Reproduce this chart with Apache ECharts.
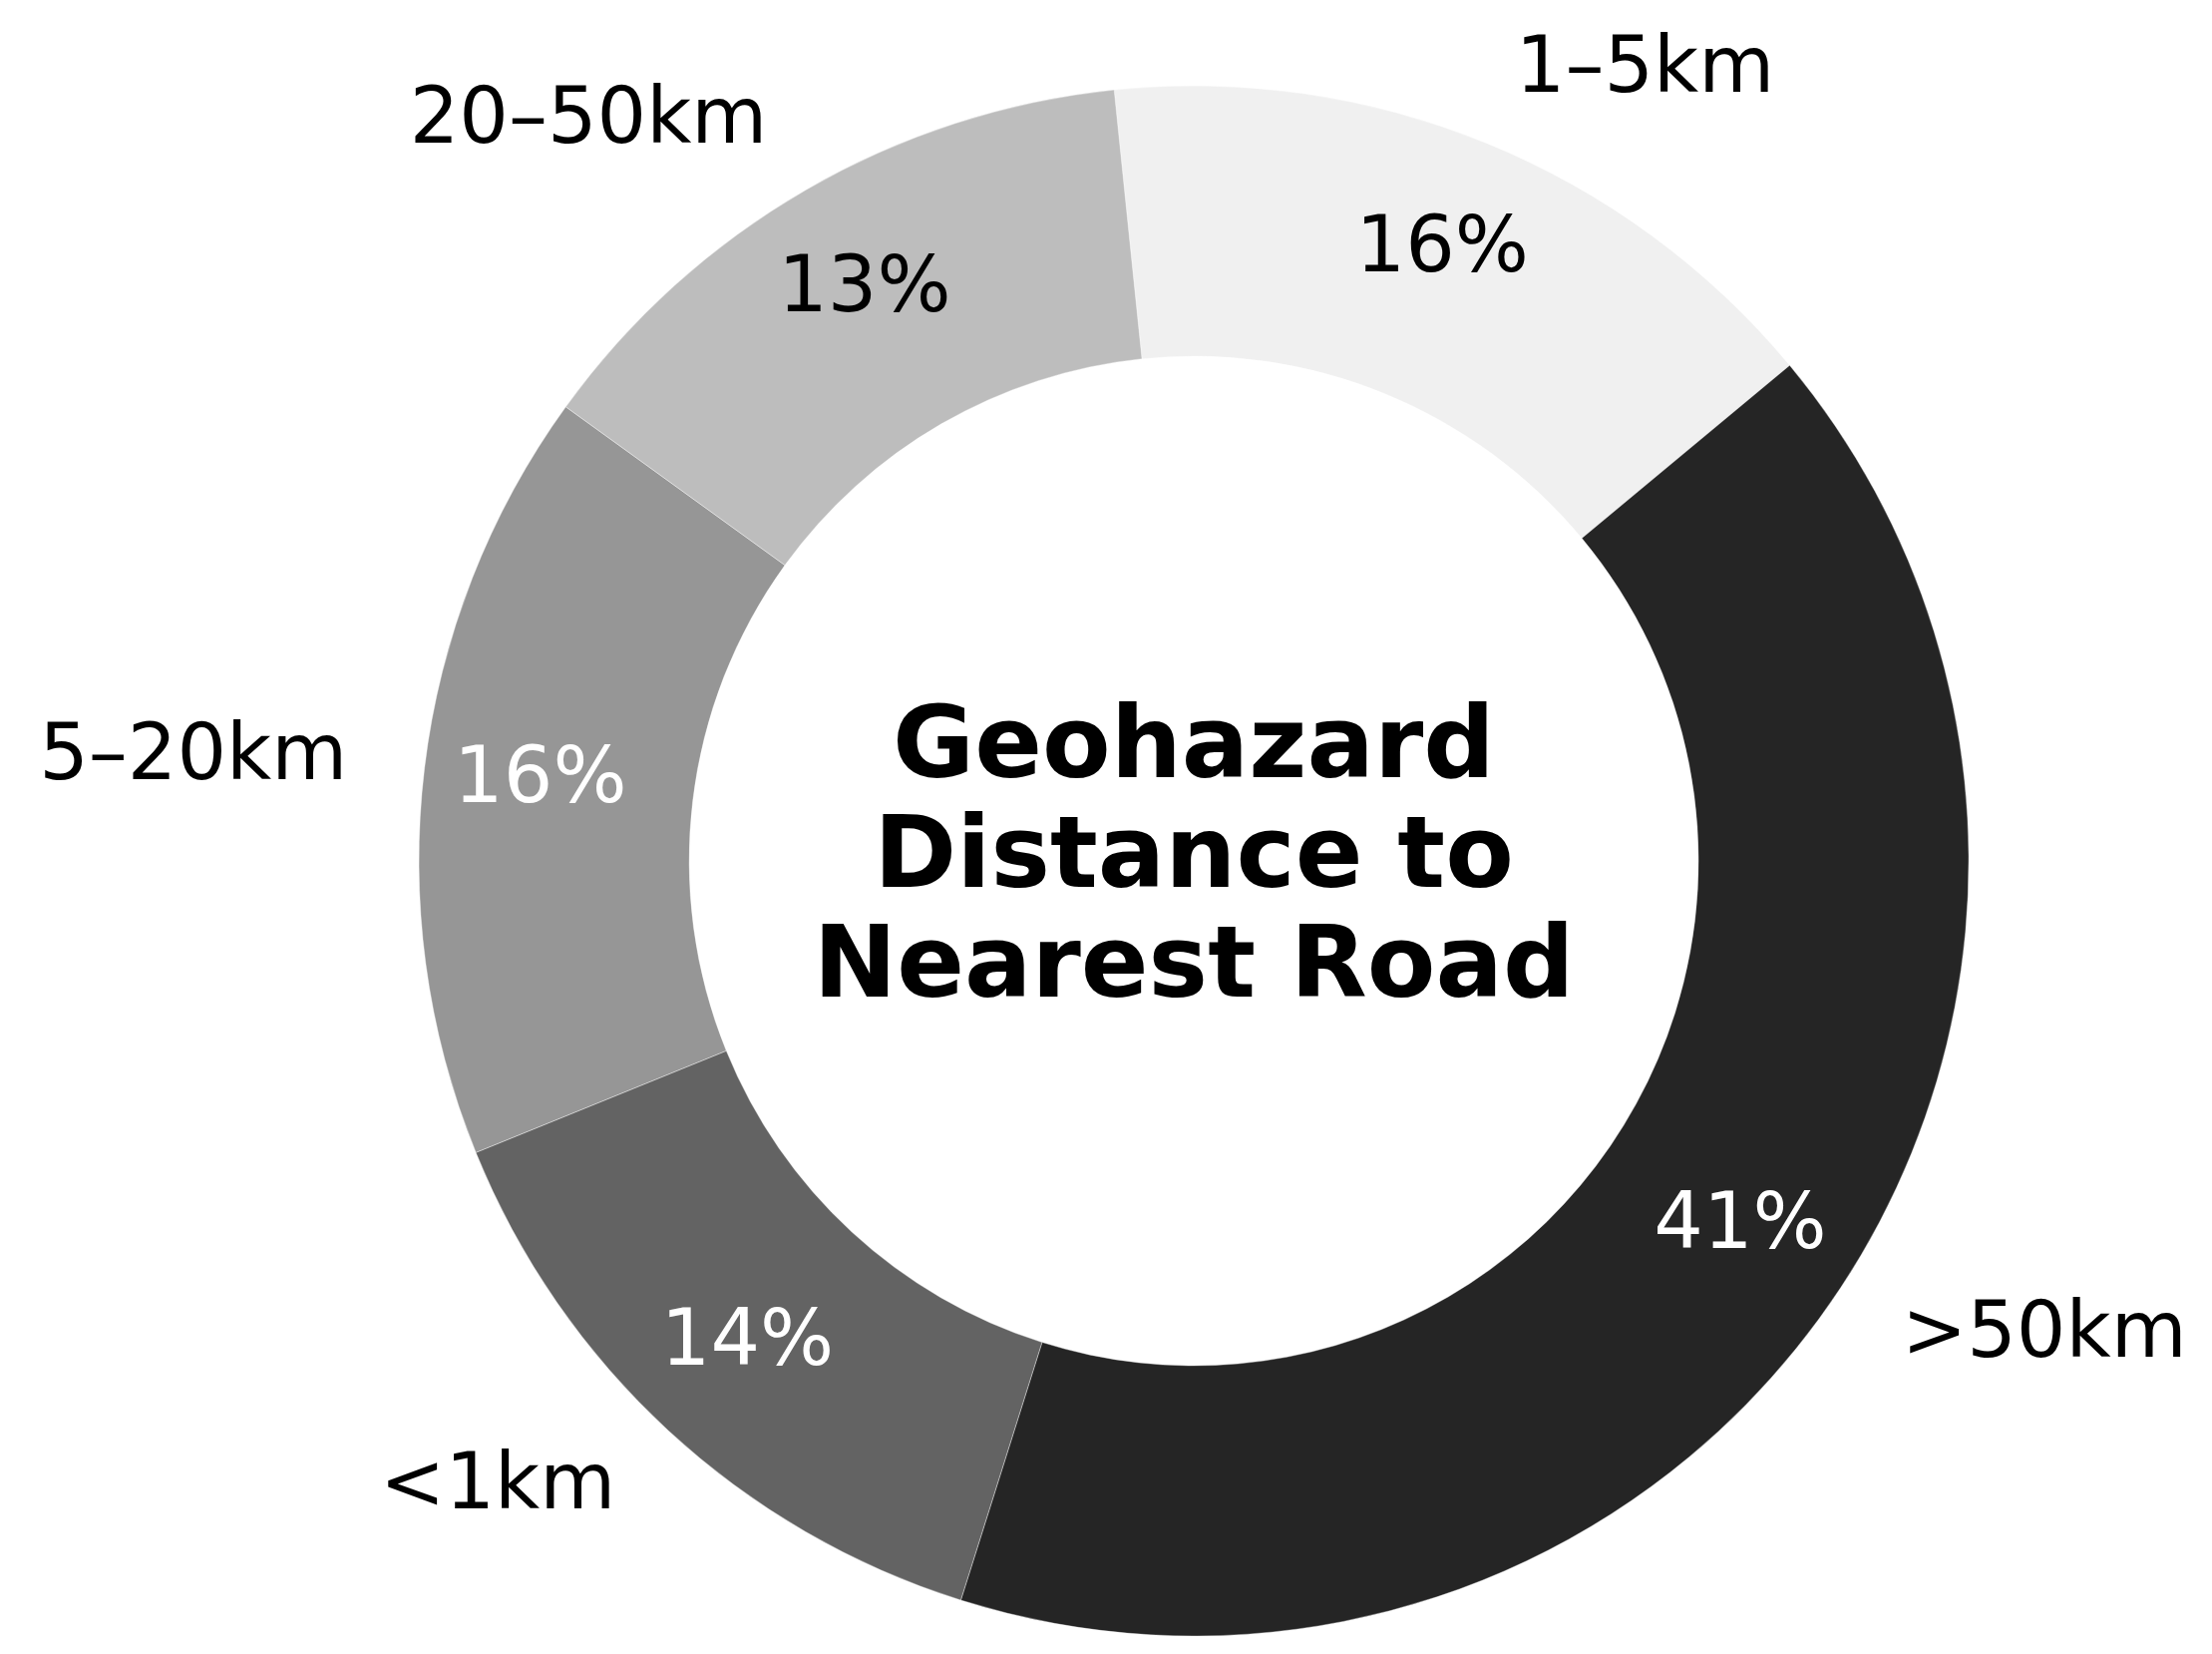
<!DOCTYPE html>
<html lang="en">
<head>
    <meta charset="utf-8">
    <title>Geohazard Distance to Nearest Road</title>
    <script src="https://cdn.jsdelivr.net/npm/echarts@6.0.0/dist/echarts.min.js"></script>
    <style>
        html, body { margin: 0; padding: 0; background: #fff; }
        #main { width: 2218px; height: 1658px; }
    </style>
</head>
<body>
<div id="main"></div>
<script type="text/javascript">
    // slices in clockwise order, starting just left of 12 o'clock
    var categories = ['1–5km', '>50km', '<1km', '5–20km', '20–50km'];
    var shares = [15.6, 40.9, 14.0, 16.1, 13.4];
    var sliceColors = ['#f0f0f0', '#252525', '#636363', '#969696', '#bdbdbd'];
    var pctColors = ['#000', '#fff', '#fff', '#fff', '#000'];
    var centerTitle = 'Geohazard\nDistance to\nNearest Road';

    var font = 'DejaVu Sans';
    var pieCenter = ['53.97%', '52.05%'];
    var startAngle = 95.9;

    var ringData = categories.map(function (name, i) {
        return { name: name, value: shares[i], itemStyle: { color: sliceColors[i] } };
    });
    var pctData = categories.map(function (name, i) {
        return { name: name, value: shares[i], label: { color: pctColors[i] } };
    });

    var myChart = echarts.init(document.getElementById('main'));
    var option = {
        backgroundColor: '#fff',
        animation: false,
        title: {
            text: centerTitle,
            left: 1197,
            top: 863,
            padding: 0,
            textAlign: 'center',
            textVerticalAlign: 'middle',
            textStyle: {
                fontFamily: font,
                fontWeight: 'bold',
                fontSize: 100,
                lineHeight: 110,
                color: '#000'
            }
        },
        series: [{
            // the ring itself, with category names outside
            type: 'pie',
            center: pieCenter,
            radius: [506, 777],
            startAngle: startAngle,
            clockwise: true,
            avoidLabelOverlap: false,
            silent: true,
            itemStyle: { borderColor: 'rgba(255,255,255,0.6)', borderWidth: 0.6 },
            label: {
                show: true,
                position: 'outside',
                formatter: '{b}',
                fontFamily: font,
                fontSize: 78,
                color: '#000',
                distanceToLabelLine: 0
            },
            labelLine: { show: false, length: 78, length2: 0 },
            data: ringData
        }, {
            // percentages, drawn a bit outside the ring's mid radius
            type: 'pie',
            center: pieCenter,
            radius: [606, 708],
            startAngle: startAngle,
            clockwise: true,
            avoidLabelOverlap: false,
            silent: true,
            itemStyle: { color: 'rgba(0,0,0,0)', borderWidth: 0 },
            label: {
                show: true,
                position: 'inside',
                fontFamily: font,
                fontSize: 78,
                formatter: function (p) {
                    return Math.round(p.percent) + '%';
                }
            },
            labelLine: { show: false },
            data: pctData
        }]
    };
    myChart.setOption(option);
</script>
</body>
</html>
